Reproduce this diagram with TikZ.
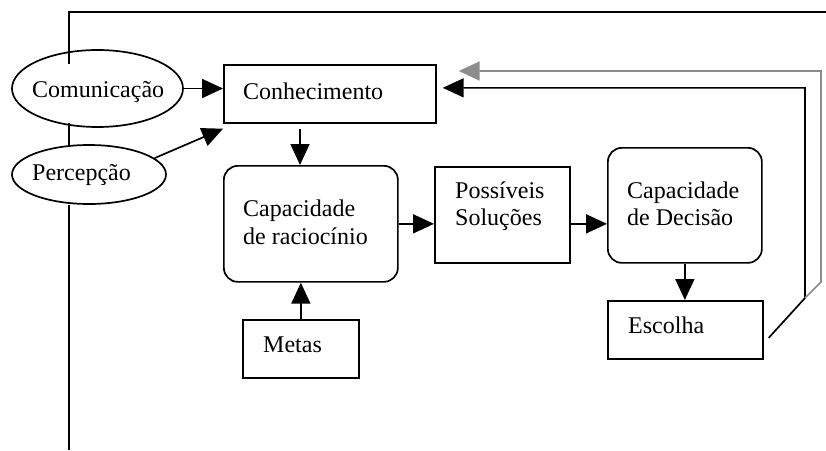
\documentclass[tikz,border=0pt]{standalone}
\usepackage{fontspec}
\setmainfont{Liberation Serif}
\usetikzlibrary{shapes.geometric,arrows.meta,calc}

\tikzset{
  shapebox/.style={draw=black, line width=1.7pt, inner sep=0pt, anchor=north west},
  roundbox/.style={shapebox, rounded corners=14pt},
  oval/.style={draw=black, line width=1.7pt, ellipse, inner sep=0pt},
  txt/.style={anchor=base west, inner sep=0pt, font=\fontsize{24}{28}\selectfont},
  link/.style={draw=black, line width=1.7pt, -{Triangle[length=21pt,width=19pt]}},
  backlink/.style={link, draw=black!45, -{Triangle[length=21pt,width=19pt,fill=black!45]}},
  frame/.style={draw=black, line width=1.7pt},
}

\begin{document}
\begin{tikzpicture}[x=1pt,y=-1pt]
\useasboundingbox (0,0) rectangle (826,450);

% frame line on the left and along the top
\draw[frame] (69,64) -- (69,12) -- (826,12);
\draw[frame] (69,123) -- (69,145);
\draw[frame] (69,205) -- (69,450);

% inputs
\node[oval, minimum width=171pt, minimum height=77pt] (comm) at (97.5,88.5) {};
\node[oval, minimum width=154pt, minimum height=59pt] (perc) at (89,174.5) {};
\node[txt] (comm-t) at (32,97.5) {Comunicação};
\node[txt] (perc-t) at (32,180) {Percepção};

% boxes
\node[shapebox, minimum width=212pt, minimum height=58pt] (conh) at (223,64) {};
\node[txt] (conh-t) at (243,99) {Conhecimento};

\node[roundbox, minimum width=174pt, minimum height=116pt] (caprac) at (223,165) {};
\node[txt] (caprac-t1) at (243,216) {Capacidade};
\node[txt] (caprac-t2) at (243,244) {de raciocínio};

\node[shapebox, minimum width=116pt, minimum height=58pt] (metas) at (242,319) {};
\node[txt] (metas-t) at (263,352) {Metas};

\node[shapebox, minimum width=135pt, minimum height=96pt] (poss) at (434,166) {};
\node[txt] (poss-t1) at (455,198) {Possíveis};
\node[txt] (poss-t2) at (455,225) {Soluções};

\node[roundbox, minimum width=154pt, minimum height=115pt] (capdec) at (607,147) {};
\node[txt] (capdec-t1) at (627,198) {Capacidade};
\node[txt] (capdec-t2) at (627,225) {de Decisão};

\node[shapebox, minimum width=155pt, minimum height=58pt] (esc) at (607,300) {};
\node[txt] (esc-t) at (628,333) {Escolha};

% connectors
\draw[link] (comm.east) -- (comm.east -| conh.west);
\draw[link] (perc.14) -- ($(conh.south west)+(0,5)$);
\draw[link, shorten <=5pt] ($(conh.south west)+(77,0)$) -- ($(caprac.north west)+(77,0)$);
\draw[link] (metas.north) -- (metas.north |- caprac.south);
\draw[link] (caprac.east) -- (caprac.east -| poss.west);
\draw[link] (caprac.east -| poss.east) -- (caprac.east -| capdec.west);
\draw[link] (capdec.south) -- (capdec.south |- esc.north);

% feedback paths
\coordinate (fbk) at (805,298);
\draw[link] ($(esc.east)+(5,8)$) -- (fbk) |- ($(conh.east)+(6,-6)$);
\draw[backlink] (fbk) -- ++(16,-16) |- ($(conh.north east)+(22,7)$);
\end{tikzpicture}
\end{document}
